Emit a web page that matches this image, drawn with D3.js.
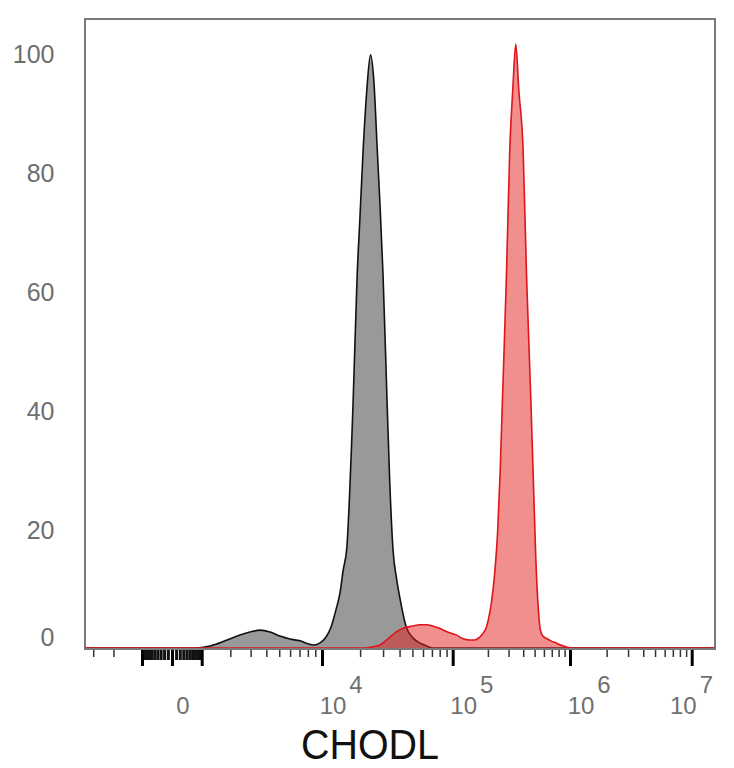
<!DOCTYPE html>
<html>
<head>
<meta charset="utf-8">
<script src="https://cdn.jsdelivr.net/npm/d3@7"></script>
<style>
  html, body { margin: 0; padding: 0; background: #fff; }
  svg { display: block; }
</style>
</head>
<body>
<svg id="chart" width="734" height="768"></svg>
<script>
// ---------------- data ----------------
// fluorescence intensity (CHODL channel) and % of max
const greyX = [711, 1250, 1782, 2441, 2966, 3568, 4265, 5066, 5990, 7054, 8020, 8822, 9693,
  10770, 11808, 12935, 13914, 14768, 15782, 16510, 17110, 17664, 18970, 19900, 21100, 22530, 24040,
  25480, 27100, 28310, 29990, 32150, 33700, 35690, 38060, 40090, 45010, 50450, 56610, 63840, 70770];
const greyY = [0, 0.35, 1.2, 2.2, 2.7, 3.0, 2.7, 2.0, 1.5, 1.2, 0.7, 0.5, 0.85,
  1.85, 3.5, 6.4, 9.2, 13.1, 17.0, 25.0, 33.3, 41.6, 62.6, 71.9, 83.6, 93.7, 99.6,
  95.4, 83.6, 75.2, 62.6, 41.6, 28.0, 16.5, 11.5, 8.6, 3.5, 1.7, 0.85, 0.35, 0];

const redX = [21750, 24600, 28310, 32540, 37860, 43720, 50450, 56610, 63510, 70770, 79760,
  91460, 107270, 121500, 139600, 154100, 164400, 176900, 194100, 203100, 214300, 228600,
  242600, 254800, 266100, 287900, 307200, 325900, 345700, 366800, 399300, 426900, 464600,
  487900, 512500, 538500, 560000, 588200, 632500, 688300, 769900, 854300, 937100, 1033000];
const redY = [0, 0.15, 0.5, 1.5, 2.7, 3.4, 3.7, 3.9, 3.9, 3.7, 3.3,
  2.7, 2.2, 1.6, 1.35, 1.35, 1.6, 2.2, 3.5, 5.0, 7.6, 12.6,
  19.8, 29.9, 41.6, 62.6, 83.6, 93.7, 101.4, 93.7, 83.6, 62.6, 41.6,
  28.2, 14.8, 6.4, 3.0, 2.0, 1.6, 1.2, 0.8, 0.4, 0.15, 0];

const yTicks = [0, 20, 40, 60, 80, 100];
const xMajorTicks = [-1000, 0, 1000, 1e4, 1e5, 1e6, 1e7];
const xLabelValues = [0, 1e4, 1e5, 1e6, 1e7];
const xLabelExponents = [null, 4, 5, 6, 7];
const xTitle = "CHODL";

// ---------------- layout ----------------
const plot = { left: 85, right: 715, top: 19, bottom: 649 };
const svg = d3.select("#chart");

// biexponential-like display transform
const lt = v => Math.sign(v) * Math.log10(1 + Math.abs(v) / 1000);
const ltInv = t => Math.sign(t) * (Math.pow(10, Math.abs(t)) - 1) * 1000;
const xKnots = [-1e4, -1e3, 0, 1e3, 1e4, 1e5, 1e6, 1e7];
const xLin = d3.scaleLinear()
  .domain(xKnots.map(lt))
  .range([22, 142, 172, 201.7, 322, 452.7, 570, 691.7]);
const x = v => xLin(lt(v));
const xMinVal = ltInv(xLin.invert(plot.left - 5));
const xMaxVal = ltInv(xLin.invert(plot.right + 5));

const y = d3.scaleLinear().domain([0, 100]).range([648, 52.5]);

// clip
svg.append("defs").append("clipPath").attr("id", "clip")
  .append("rect")
  .attr("x", plot.left).attr("y", plot.top)
  .attr("width", plot.right - plot.left).attr("height", plot.bottom - plot.top);

function series(xs, ys) {
  const pts = xs.map((v, i) => ({ x: v, y: ys[i] }));
  return [{ x: xMinVal, y: 0 }, ...pts, { x: xMaxVal, y: 0 }];
}

const area = d3.area().x(d => x(d.x)).y0(y(0)).y1(d => y(d.y)).curve(d3.curveMonotoneX);
const line = d3.line().x(d => x(d.x)).y(d => y(d.y)).curve(d3.curveMonotoneX);

const g = svg.append("g").attr("clip-path", "url(#clip)");
const grey = series(greyX, greyY);
const red = series(redX, redY);

g.append("path").datum(grey).attr("d", area).attr("fill", "#999999");
g.append("path").datum(grey).attr("d", line).attr("fill", "none")
  .attr("stroke", "#111").attr("stroke-width", 1.6).attr("stroke-linejoin", "round");
g.append("path").datum(red).attr("d", area).attr("fill", "rgb(228,30,30)").attr("fill-opacity", 0.5);
g.append("path").datum(red).attr("d", line).attr("fill", "none")
  .attr("stroke", "#e0141b").attr("stroke-width", 1.6).attr("stroke-linejoin", "round");

// frame
svg.append("rect")
  .attr("x", plot.left).attr("y", plot.top)
  .attr("width", plot.right - plot.left).attr("height", plot.bottom - plot.top)
  .attr("fill", "none").attr("stroke", "#7a7a7a").attr("stroke-width", 2);

// x ticks
const minorTicks = [];
[3, 4, 5, 6].forEach(k => d3.range(2, 10).forEach(m => minorTicks.push(m * Math.pow(10, k))));
d3.range(2, 10).forEach(m => minorTicks.push(-m * 1000));
const mediumTicks = [];
d3.range(1, 10).forEach(m => { mediumTicks.push(m * 100); mediumTicks.push(-m * 100); });

const inside = v => x(v) >= plot.left && x(v) <= plot.right;

function tickAxis(vals, size, width, color) {
  const ax = d3.axisBottom(xLin)
    .tickValues(vals.filter(inside).map(lt))
    .tickSize(size).tickFormat("");
  const a = svg.append("g").attr("transform", `translate(0,${plot.bottom + 1})`).call(ax);
  a.select(".domain").remove();
  a.selectAll(".tick line").attr("stroke", color).attr("stroke-width", width);
}
tickAxis(minorTicks, 7, 1.5, "#333");
tickAxis(mediumTicks, 10, 3, "#111");
tickAxis(xMajorTicks, 16, 3, "#000");

// x labels
const labelFont = "Liberation Sans, Arial, sans-serif";
const labelColor = "#6f6f6f";
xLabelValues.forEach((v, i) => {
  const exp = xLabelExponents[i];
  let cx = x(v) + 11;
  if (exp === null) {
    svg.append("text").attr("x", cx).attr("y", 706).attr("dy", "0.35em")
      .attr("text-anchor", "middle").attr("font-family", labelFont)
      .attr("font-size", 24).attr("fill", labelColor).text("0");
  } else {
    const rightEdge = cx + 13.35 + 3 + 13.3;
    if (rightEdge > plot.right - 2) cx -= rightEdge - (plot.right - 2);
    svg.append("text").attr("x", cx).attr("y", 706).attr("dy", "0.35em")
      .attr("text-anchor", "middle").attr("font-family", labelFont)
      .attr("font-size", 24).attr("fill", labelColor).text("10");
    svg.append("text").attr("x", cx + 13.35 + 3).attr("y", 685).attr("dy", "0.35em")
      .attr("text-anchor", "start").attr("font-family", labelFont)
      .attr("font-size", 24).attr("fill", labelColor).text(String(exp));
  }
});

// y labels
yTicks.forEach(v => {
  svg.append("text")
    .attr("x", 54.5)
    .attr("y", v === 0 ? 637.5 : y(v) + 1.5)
    .attr("dy", "0.35em")
    .attr("text-anchor", "end")
    .attr("font-family", labelFont)
    .attr("font-size", 25)
    .attr("fill", labelColor)
    .text(v);
});

// axis title
svg.append("text")
  .attr("x", 370).attr("y", 759)
  .attr("text-anchor", "middle")
  .attr("font-family", "Liberation Sans, Arial, sans-serif")
  .attr("font-size", 42)
  .attr("fill", "#111")
  .attr("textLength", 138)
  .attr("lengthAdjust", "spacingAndGlyphs")
  .text(xTitle);
</script>
</body>
</html>
